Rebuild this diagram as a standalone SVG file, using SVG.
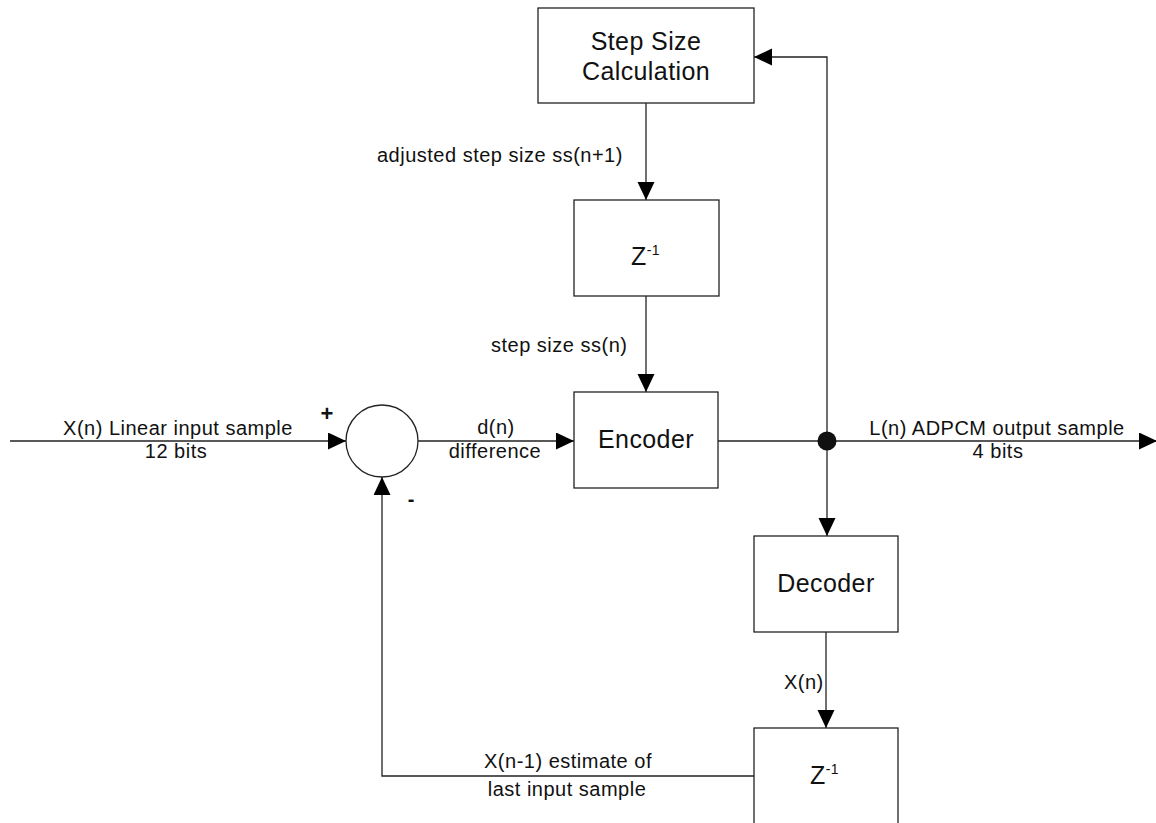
<svg xmlns="http://www.w3.org/2000/svg" width="1156" height="823" viewBox="0 0 1156 823">
<style>
.box{fill:#fff;stroke:#222;stroke-width:1.3}
.ln{fill:none;stroke:#222;stroke-width:1.3}
.big{font-family:"Liberation Sans",Arial,sans-serif;font-size:25px;letter-spacing:0.4px;fill:#111}
.sm{font-family:"Liberation Sans",Arial,sans-serif;font-size:20px;letter-spacing:0.5px;fill:#111}
.sup{font-size:14px}
.sign{font-family:"Liberation Sans",Arial,sans-serif;font-weight:bold;fill:#111}
.mid{text-anchor:middle}
</style>
<defs>
<marker id="arr" markerUnits="userSpaceOnUse" markerWidth="18" markerHeight="18" refX="18" refY="8.5" orient="auto">
<path d="M0,0 L18,8.5 L0,17 Z" fill="#000"/>
</marker>
</defs>
<rect width="1156" height="823" fill="#fff"/>
<g id="connectors">
<path class="ln" d="M10,441 H346" marker-end="url(#arr)"/>
<path class="ln" d="M418,441 H574" marker-end="url(#arr)"/>
<path class="ln" d="M718,441 H1157" marker-end="url(#arr)"/>
<path class="ln" d="M827,441 V57 H754" marker-end="url(#arr)"/>
<path class="ln" d="M827,441 V536" marker-end="url(#arr)"/>
<path class="ln" d="M646,103 V200" marker-end="url(#arr)"/>
<path class="ln" d="M646,296 V392" marker-end="url(#arr)"/>
<path class="ln" d="M826,632 V728" marker-end="url(#arr)"/>
<path class="ln" d="M754,776 H382 V477" marker-end="url(#arr)"/>
<circle id="junction" cx="827" cy="441" r="9.5" fill="#111"/>
<text class="sm mid" x="178" y="435">X(n) Linear input sample</text>
<text class="sm mid" x="176" y="458">12 bits</text>
<text class="sm mid" x="496" y="434">d(n)</text>
<text class="sm mid" x="495" y="458">difference</text>
<text class="sm mid" x="997" y="435">L(n) ADPCM output sample</text>
<text class="sm mid" x="998" y="458">4 bits</text>
<text class="sm" x="377" y="162">adjusted step size ss(n+1)</text>
<text class="sm" x="491" y="352">step size ss(n)</text>
<text class="sm" x="784" y="689">X(n)</text>
<text class="sm mid" x="568" y="768">X(n-1) estimate of</text>
<text class="sm mid" x="567" y="796">last input sample</text>
<text class="sign mid" x="327" y="421" font-size="22">+</text>
<text class="sign mid" x="411" y="506" font-size="20">-</text>
</g>
<g id="step-size-calculation">
<rect class="box" x="538" y="8" width="216" height="95"/>
<text class="big mid" x="646" y="50">Step Size</text>
<text class="big mid" x="646" y="80">Calculation</text>
</g>
<g id="z-delay-top">
<rect class="box" x="574" y="200" width="145" height="96"/>
<text class="big" x="631" y="265">Z<tspan class="sup" dy="-10">-1</tspan></text>
</g>
<g id="summer">
<circle class="box" cx="382" cy="441" r="36"/>
</g>
<g id="encoder">
<rect class="box" x="574" y="392" width="144" height="96"/>
<text class="big mid" x="646" y="448">Encoder</text>
</g>
<g id="decoder">
<rect class="box" x="754" y="536" width="144" height="96"/>
<text class="big mid" x="826" y="592">Decoder</text>
</g>
<g id="z-delay-bottom">
<rect class="box" x="754" y="728" width="144" height="100"/>
<text class="big" x="810" y="784">Z<tspan class="sup" dy="-10">-1</tspan></text>
</g>
</svg>
